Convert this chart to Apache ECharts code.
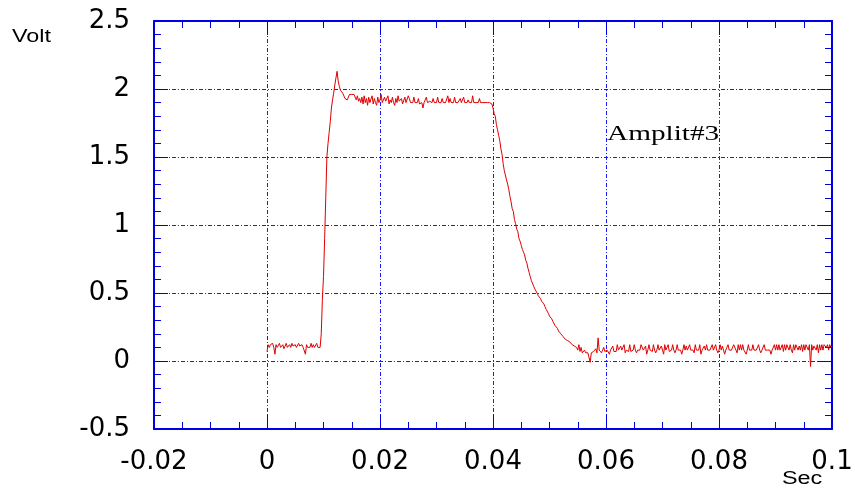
<!DOCTYPE html>
<html><head><meta charset="utf-8">
<script src="https://cdn.jsdelivr.net/npm/echarts@6/dist/echarts.min.js"></script>
<style>html,body{margin:0;padding:0;background:#fff}#c{width:855px;height:489px}</style>
</head><body><div id="c"></div>
<script>
// ---- data ----
const sampleStep = 0.0002;          // seconds between samples, first sample at t = 0
const xTicks = [-0.02, 0, 0.02, 0.04, 0.06, 0.08, 0.1];
const yTicks = [-0.5, 0, 0.5, 1, 1.5, 2, 2.5];
const xName = 'Sec';
const yName = 'Volt';
const traceName = 'Amplit#3';

const preTrigger = [
  0.07, 0.12, 0.10, 0.12, 0.11, 0.13, 0.10, 0.05, 0.12, 0.10, 0.11, 0.13,
  0.10, 0.10, 0.12, 0.09, 0.11, 0.13, 0.10, 0.10, 0.12, 0.10, 0.13, 0.11,
  0.10, 0.12, 0.10, 0.10, 0.13, 0.11, 0.10, 0.12, 0.10, 0.09, 0.05, 0.12,
  0.10, 0.11, 0.10, 0.13, 0.10, 0.12, 0.10, 0.10, 0.13, 0.10, 0.10, 0.10
];
const riseEdge = [
  0.20, 0.45, 0.62, 0.90, 1.20, 1.50, 1.60, 1.68, 1.76, 1.86, 1.92, 1.97,
  2.03, 2.08, 2.13, 2.06, 2.02, 1.99
];
const plateau = [
  1.98, 1.97, 1.96, 1.93, 1.92, 1.92, 1.93, 1.96, 1.96, 1.96, 1.96, 1.96, 1.96, 1.92, 1.95, 1.91, 1.93,
  1.90, 1.94, 1.89, 1.95, 1.90, 1.93, 1.88, 1.94, 1.90, 1.91,
  1.95, 1.89, 1.93, 1.90, 1.88, 1.94, 1.90, 1.92, 1.96, 1.90,
  1.89, 1.94, 1.91, 1.90, 1.95, 1.89, 1.92, 1.90, 1.94, 1.90,
  1.88, 1.93, 1.90, 1.95, 1.91, 1.90, 1.93, 1.89,
  1.90, 1.94, 1.90, 1.90, 1.95, 1.93, 1.90, 1.89, 1.90, 1.94,
  1.90, 1.90, 1.90, 1.93, 1.89, 1.90, 1.90, 1.86, 1.90, 1.90,
  1.94, 1.90, 1.90, 1.91, 1.90, 1.90, 1.93, 1.90, 1.90, 1.90,
  1.94, 1.90, 1.89, 1.90, 1.93, 1.90, 1.90, 1.90, 1.90, 1.95,
  1.90, 1.93, 1.90, 1.90, 1.90, 1.94, 1.90, 1.89, 1.90, 1.90,
  1.93, 1.90, 1.90, 1.94, 1.90, 1.90, 1.90, 1.92, 1.90, 1.90,
  1.90, 1.95, 1.90, 1.90, 1.90, 1.90, 1.90, 1.93, 1.90, 1.90,
  1.90, 1.90, 1.90, 1.90, 1.90, 1.91, 1.90, 1.90
];
const decay = [
  1.89, 1.86, 1.82, 1.80, 1.74, 1.70, 1.66, 1.62, 1.56, 1.52,
  1.45, 1.40, 1.40, 1.33, 1.30, 1.26, 1.21, 1.17, 1.12, 1.10,
  1.04, 1.01, 0.97, 0.95, 0.90, 0.88, 0.85, 0.82, 0.80, 0.78,
  0.74, 0.72, 0.68, 0.65, 0.62, 0.59, 0.58, 0.55, 0.53, 0.52,
  0.50, 0.48, 0.48, 0.46, 0.44, 0.43, 0.42, 0.40, 0.38, 0.37,
  0.35, 0.33, 0.32, 0.31, 0.29, 0.28, 0.26, 0.25, 0.24, 0.22,
  0.21, 0.20, 0.19, 0.18, 0.17, 0.16, 0.16, 0.15, 0.14, 0.14,
  0.13, 0.12, 0.12, 0.11, 0.12, 0.10
];
const tail = [
  0.08, 0.12, 0.07, 0.10, 0.06, 0.05, 0.08, 0.06, 0.05, 0.06,
  0.06, -0.01, 0.06, 0.06, 0.07, 0.06, 0.09, 0.06, 0.17, 0.08,
  0.07, 0.06, 0.08, 0.10, 0.07, 0.07, 0.08, 0.07, 0.05, 0.08,
  0.07, 0.11, 0.07, 0.08, 0.07, 0.12, 0.08, 0.07, 0.11, 0.08,
  0.07, 0.12, 0.06, 0.08, 0.08, 0.07, 0.12, 0.07, 0.08, 0.08,
  0.12, 0.08, 0.06, 0.08, 0.08, 0.08, 0.12, 0.12, 0.08, 0.08,
  0.11, 0.05, 0.08, 0.12, 0.08, 0.08, 0.07, 0.12, 0.08, 0.06,
  0.08, 0.12, 0.08, 0.08, 0.11, 0.08, 0.05, 0.12, 0.08, 0.08,
  0.12, 0.07, 0.08, 0.08, 0.12, 0.08, 0.06, 0.08, 0.12, 0.08,
  0.08, 0.08, 0.05, 0.08, 0.12, 0.08, 0.11, 0.08, 0.08, 0.12,
  0.08, 0.08, 0.08, 0.06, 0.12, 0.08, 0.08, 0.08, 0.12, 0.05,
  0.08, 0.08, 0.11, 0.08, 0.12, 0.08, 0.08, 0.08, 0.08, 0.12,
  0.08, 0.08, 0.12, 0.08, 0.06, 0.08, 0.12, 0.08, 0.11, 0.08,
  0.05, 0.08, 0.08, 0.12, 0.08, 0.08, 0.08, 0.08, 0.12, 0.12,
  0.08, 0.06, 0.12, 0.08, 0.12, 0.08, 0.12, 0.08, 0.08, 0.05,
  0.08, 0.12, 0.08, 0.08, 0.08, 0.12, 0.08, 0.08, 0.08, 0.08,
  0.12, 0.08, 0.06, 0.08, 0.08, 0.12, 0.08, 0.08, 0.08, 0.08,
  0.08, 0.05, 0.08, 0.08, 0.12, 0.08, 0.12, 0.08, 0.12, 0.08,
  0.08, 0.12, 0.07, 0.12, 0.08, 0.12, 0.11, 0.08, 0.12, 0.08,
  0.06, 0.12, 0.08, 0.12, 0.12, 0.08, 0.11, 0.08, 0.12, 0.07,
  0.12, 0.08, 0.12, 0.11, 0.08, 0.12, -0.04, 0.12, 0.08, 0.11,
  0.12, 0.08, 0.12, 0.06, 0.12, 0.08, 0.12, 0.08, 0.12, 0.11,
  0.10, 0.12, 0.08, 0.12, 0.10, 0.11
];

// ---- build ----
const voltage = [].concat(preTrigger, riseEdge, plateau, decay, tail);
const seriesData = voltage.map((v, i) => [+(i * sampleStep).toFixed(4), v]);

const BLUE = '#0000e0';
const GRID = '#1a1aff';
const fmt = v => String(+(+v).toFixed(3));

function xAx(pos, main) {
  return {
    type: 'value', position: pos,
    min: xTicks[0], max: xTicks[xTicks.length - 1], interval: xTicks[1] - xTicks[0],
    axisLine: { show: true, onZero: false, lineStyle: { color: BLUE, width: 2 } },
    axisTick: { show: true, inside: true, length: 14, lineStyle: { color: BLUE, width: 1 } },
    minorTick: { show: true, splitNumber: 4, length: 7, lineStyle: { color: BLUE, width: 1 } },
    axisLabel: { show: main, margin: 20, color: '#000', fontFamily: 'DejaVu Sans', fontSize: 26, formatter: fmt },
    splitLine: { show: main, lineStyle: { color: GRID, width: 1, type: [4, 2, 1, 2] } }
  };
}
function yAx(pos, main) {
  return {
    type: 'value', position: pos,
    min: yTicks[0], max: yTicks[yTicks.length - 1], interval: yTicks[1] - yTicks[0],
    axisLine: { show: true, onZero: false, lineStyle: { color: BLUE, width: 2 } },
    axisTick: { show: true, inside: true, length: 14, lineStyle: { color: BLUE, width: 1 } },
    minorTick: { show: true, splitNumber: 5, length: 7, lineStyle: { color: BLUE, width: 1 } },
    axisLabel: { show: main, margin: 24, color: '#000', fontFamily: 'DejaVu Sans', fontSize: 26, formatter: fmt },
    splitLine: { show: main, lineStyle: { color: GRID, width: 1, type: [4, 2, 1, 2] } }
  };
}

const chart = echarts.init(document.getElementById('c'), null, { renderer: 'canvas' });
chart.setOption({
  animation: false,
  backgroundColor: '#fff',
  grid: { left: 154, right: 23, top: 21, bottom: 60, containLabel: false, outerBoundsMode: 'none' },
  xAxis: [xAx('bottom', true), xAx('top', false)],
  yAxis: [yAx('left', true), yAx('right', false)],
  graphic: [
    { type: 'text', x: 12, y: 37, scaleX: 1.3, silent: true,
      style: { text: yName, font: '18px "Liberation Sans"', fill: '#000', textAlign: 'left', textVerticalAlign: 'middle' } },
    { type: 'text', x: 782, y: 479, scaleX: 1.3, silent: true,
      style: { text: xName, font: '18px "Liberation Sans"', fill: '#000', textAlign: 'left', textVerticalAlign: 'middle' } },
    { type: 'text', x: 607, y: 134, scaleX: 1.33, silent: true,
      style: { text: traceName, font: '22px "Liberation Serif"', fill: '#000', textAlign: 'left', textVerticalAlign: 'middle' } }
  ],
  series: [{
    name: traceName, type: 'line', xAxisIndex: 0, yAxisIndex: 0,
    data: seriesData, showSymbol: false, symbol: 'none',
    lineStyle: { color: '#e00000', width: 1 }, silent: true
  }]
});
</script></body></html>
